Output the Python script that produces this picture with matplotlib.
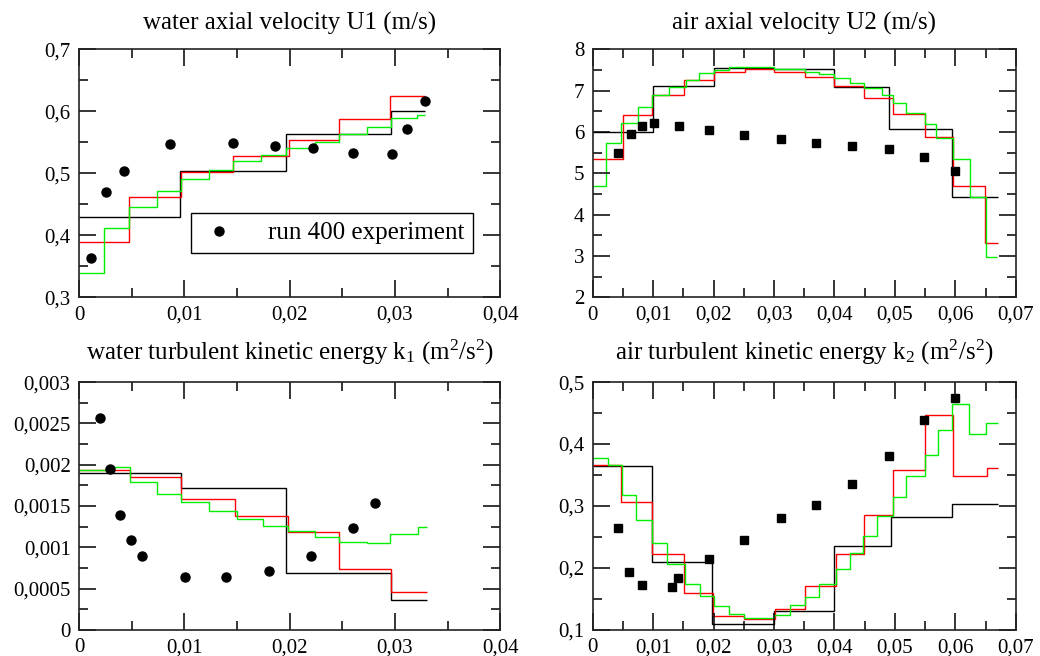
import matplotlib
matplotlib.use('Agg')
import matplotlib.pyplot as plt
from matplotlib.ticker import MultipleLocator, FuncFormatter

# 字体：Times 风格
plt.rcParams['font.family'] = ['Liberation Serif', 'DejaVu Serif']
plt.rcParams['mathtext.default'] = 'regular'
# 刻度：朝内，四边都有
plt.rcParams['xtick.direction'] = 'in'
plt.rcParams['ytick.direction'] = 'in'
plt.rcParams['xtick.top'] = True
plt.rcParams['ytick.right'] = True
plt.rcParams['xtick.major.size'] = 12
plt.rcParams['ytick.major.size'] = 12
plt.rcParams['xtick.minor.size'] = 6.5
plt.rcParams['ytick.minor.size'] = 6.5
plt.rcParams['xtick.major.width'] = 1.1
plt.rcParams['ytick.major.width'] = 1.1
plt.rcParams['xtick.minor.width'] = 1.1
plt.rcParams['ytick.minor.width'] = 1.1
plt.rcParams['xtick.labelsize'] = 15
plt.rcParams['ytick.labelsize'] = 15
plt.rcParams['xtick.major.pad'] = 6
plt.rcParams['ytick.major.pad'] = 6
plt.rcParams['axes.linewidth'] = 1.2

# ---------------- 数据 ----------------
# 水轴向速度 U1
u1_exp_x = [0.00117, 0.0026, 0.00425, 0.0086, 0.01458, 0.01864, 0.02225, 0.02605, 0.02973, 0.03113, 0.03287]
u1_exp_y = [0.363, 0.470, 0.503, 0.547, 0.549, 0.544, 0.540, 0.533, 0.531, 0.571, 0.617]
u1_black_edges = [0, 0.0096, 0.0197, 0.0296, 0.0329]
u1_black = [0.430, 0.504, 0.563, 0.600]
u1_red_edges = [0, 0.0047, 0.0097, 0.0146, 0.0199, 0.0247, 0.0295, 0.0329]
u1_red = [0.389, 0.462, 0.502, 0.528, 0.554, 0.588, 0.624]
u1_green_edges = [0, 0.0024, 0.0047, 0.0074, 0.0097, 0.0123, 0.0146, 0.0173, 0.0197, 0.0224,
                  0.0247, 0.0273, 0.0296, 0.0321, 0.0329]
u1_green = [0.339, 0.412, 0.446, 0.472, 0.490, 0.505, 0.519, 0.529, 0.541, 0.551, 0.563, 0.574,
            0.589, 0.594]

# 空气轴向速度 U2
u2_exp_x = [0.00414, 0.00624, 0.00806, 0.0101, 0.01419, 0.01916, 0.0250, 0.03109, 0.0370, 0.04296,
            0.04903, 0.05489, 0.05991]
u2_exp_y = [5.50, 5.96, 6.15, 6.22, 6.15, 6.05, 5.92, 5.83, 5.72, 5.66, 5.59, 5.39, 5.06]
u2_black_edges = [0, 0.0099, 0.0200, 0.0300, 0.0399, 0.0491, 0.0595, 0.0671]
u2_black = [6.00, 7.10, 7.54, 7.51, 7.09, 6.07, 4.43]
u2_red_edges = [0, 0.0050, 0.0098, 0.0151, 0.0200, 0.0252, 0.0300, 0.0351, 0.0399, 0.0449,
                0.0496, 0.0549, 0.0596, 0.0649, 0.0671]
u2_red = [5.35, 6.40, 6.89, 7.25, 7.45, 7.52, 7.45, 7.32, 7.10, 6.83, 6.44, 5.88, 4.69, 3.30]
u2_green_edges = [0, 0.0022, 0.0047, 0.0075, 0.0098, 0.0126, 0.0155, 0.0175, 0.0200, 0.0226,
                  0.0300, 0.0351, 0.0375, 0.0399, 0.0425, 0.0449, 0.0478, 0.0496, 0.0519, 0.0549,
                  0.0568, 0.0596, 0.0624, 0.0650, 0.0669]
u2_green = [4.69, 5.72, 6.22, 6.60, 6.89, 7.09, 7.25, 7.42, 7.49, 7.57, 7.52, 7.46, 7.40, 7.30,
            7.19, 7.07, 6.89, 6.70, 6.46, 6.20, 5.86, 5.35, 4.43, 2.98]

# 水湍动能 k1
k1_exp_x = [0.00203, 0.0029, 0.00393, 0.00498, 0.00599, 0.01011, 0.01395, 0.01807, 0.0220, 0.02605, 0.02811]
k1_exp_y = [0.00257, 0.001945, 0.00139, 0.001095, 0.0009, 0.000636, 0.000636, 0.000717, 0.0009,
            0.00124, 0.001538]
k1_black_edges = [0, 0.0097, 0.0197, 0.0296, 0.0330]
k1_black = [0.001905, 0.001724, 0.000685, 0.000362]
k1_red_edges = [0, 0.0048, 0.0097, 0.0148, 0.0198, 0.0247, 0.0296, 0.0330]
k1_red = [0.001933, 0.001852, 0.001583, 0.001377, 0.00118, 0.000737, 0.000455]
k1_green_edges = [0, 0.0026, 0.0048, 0.0074, 0.0097, 0.0123, 0.0150, 0.0175, 0.0198, 0.0224,
                  0.0247, 0.0273, 0.0295, 0.0322, 0.0330]
k1_green = [0.001933, 0.00197, 0.001788, 0.00165, 0.001543, 0.001438, 0.001341, 0.001257,
            0.001196, 0.001128, 0.001067, 0.001047, 0.00116, 0.001248]

# 空气湍动能 k2
k2_exp_x = [0.0042, 0.00607, 0.00806, 0.01309, 0.01414, 0.01922, 0.0250, 0.0311, 0.0370, 0.0429,
            0.0490, 0.0548, 0.0599]
k2_exp_y = [0.265, 0.193, 0.1725, 0.169, 0.184, 0.214, 0.245, 0.280, 0.302, 0.335, 0.381, 0.438, 0.475]
k2_black_edges = [0, 0.0098, 0.0198, 0.0300, 0.0399, 0.0493, 0.0595, 0.0671]
k2_black = [0.364, 0.209, 0.110, 0.130, 0.236, 0.283, 0.303]
k2_red_edges = [0, 0.0047, 0.0098, 0.0151, 0.0199, 0.0250, 0.0301, 0.0351, 0.0402, 0.0449,
                0.0497, 0.0549, 0.0596, 0.0652, 0.0671]
k2_red = [0.366, 0.307, 0.222, 0.160, 0.123, 0.117, 0.134, 0.171, 0.222, 0.285, 0.358, 0.447,
          0.349, 0.362]
k2_green_edges = [0, 0.0025, 0.0049, 0.0072, 0.0098, 0.0123, 0.0153, 0.0177, 0.0200, 0.0226,
                  0.0250, 0.0300, 0.0326, 0.0351, 0.0375, 0.0402, 0.0425, 0.0447, 0.0471, 0.0496,
                  0.0519, 0.0549, 0.0572, 0.0595, 0.0623, 0.0650, 0.0671]
k2_green = [0.377, 0.366, 0.317, 0.277, 0.241, 0.207, 0.175, 0.155, 0.138, 0.126, 0.119, 0.125,
            0.140, 0.153, 0.174, 0.198, 0.224, 0.251, 0.284, 0.314, 0.349, 0.383, 0.423, 0.465,
            0.417, 0.434]

# ---------------- 作图 ----------------
fig = plt.figure(figsize=(10.4, 6.56), dpi=100)

# 逗号小数点
comma_fmt = FuncFormatter(lambda v, pos: ('%g' % v).replace('.', ','))


def style_axes(ax, xmax, ymin, ymax, ymajor):
    ax.set_xlim(0, xmax)
    ax.set_ylim(ymin, ymax)
    ax.xaxis.set_major_locator(MultipleLocator(0.01))
    ax.xaxis.set_minor_locator(MultipleLocator(0.005))
    ax.yaxis.set_major_locator(MultipleLocator(ymajor))
    ax.yaxis.set_minor_locator(MultipleLocator(ymajor / 2))
    ax.xaxis.set_major_formatter(comma_fmt)
    ax.yaxis.set_major_formatter(comma_fmt)
    for s in ax.spines.values():
        s.set_color('#222222')


def draw_lines(ax, data):
    for edges, vals, col in data:
        ax.stairs(vals, edges, baseline=None, color=col, linewidth=1.0)


title_size = 18

# 左上
ax1 = fig.add_axes([0.076, 0.547, 0.405, 0.378])
draw_lines(ax1, [(u1_black_edges, u1_black, 'black'),
                 (u1_red_edges, u1_red, '#ff0000'),
                 (u1_green_edges, u1_green, '#00ee00')])
ax1.plot(u1_exp_x, u1_exp_y, 'o', color='black', ms=6.5, label='run 400 experiment')
style_axes(ax1, 0.04, 0.3, 0.7, 0.1)
ax1.set_title('water axial velocity U1 (m/s)', fontsize=title_size, pad=14)
leg = ax1.legend(loc='center', bbox_to_anchor=(0.601, 0.258), fontsize=18, fancybox=False,
                 edgecolor='black', framealpha=1, handlelength=1.5, handletextpad=1.2,
                 borderpad=0.35, borderaxespad=0)
leg.get_frame().set_linewidth(1.0)

# 右上
ax2 = fig.add_axes([0.570, 0.547, 0.4067, 0.378])
draw_lines(ax2, [(u2_black_edges, u2_black, 'black'),
                 (u2_red_edges, u2_red, '#ff0000'),
                 (u2_green_edges, u2_green, '#00ee00')])
ax2.plot(u2_exp_x, u2_exp_y, 's', color='black', ms=6)
style_axes(ax2, 0.07, 2, 8, 1)
ax2.set_title('air axial velocity U2 (m/s)', fontsize=title_size, pad=14)

# 左下
ax3 = fig.add_axes([0.076, 0.0396, 0.405, 0.378])
draw_lines(ax3, [(k1_black_edges, k1_black, 'black'),
                 (k1_red_edges, k1_red, '#ff0000'),
                 (k1_green_edges, k1_green, '#00ee00')])
ax3.plot(k1_exp_x, k1_exp_y, 'o', color='black', ms=6.5)
style_axes(ax3, 0.04, 0, 0.003, 0.0005)
ax3.set_title('water turbulent kinetic energy k$_1$ (m$^2$/s$^2$)', fontsize=title_size, pad=16)

# 右下
ax4 = fig.add_axes([0.570, 0.0396, 0.4067, 0.378])
draw_lines(ax4, [(k2_black_edges, k2_black, 'black'),
                 (k2_red_edges, k2_red, '#ff0000'),
                 (k2_green_edges, k2_green, '#00ee00')])
ax4.plot(k2_exp_x, k2_exp_y, 's', color='black', ms=6)
style_axes(ax4, 0.07, 0.1, 0.5, 0.1)
ax4.set_title('air turbulent kinetic energy k$_2$ (m$^2$/s$^2$)', fontsize=title_size, pad=16)

fig.savefig('out.png', dpi=100)
